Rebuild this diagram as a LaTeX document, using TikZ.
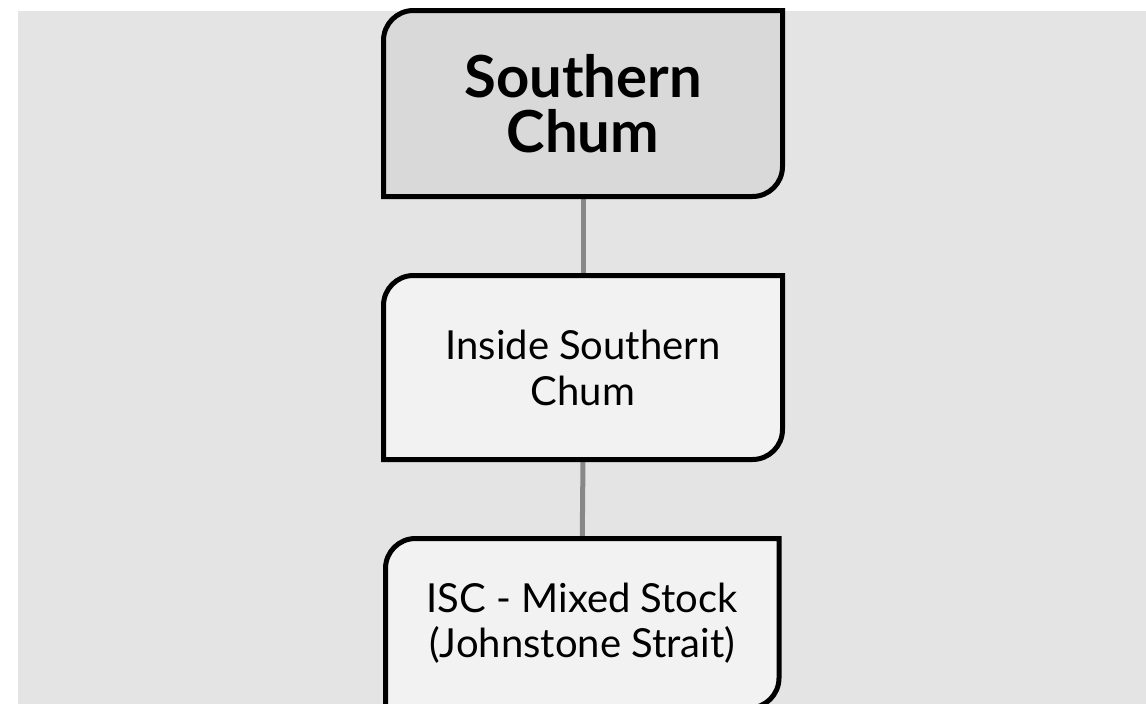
\documentclass[tikz,border=0pt]{standalone}
\usepackage{fontspec}
\setmainfont{Lato}
\usetikzlibrary{backgrounds}
\definecolor{bgcol}{HTML}{E4E4E4}
\definecolor{topfill}{HTML}{D9D9D9}
\definecolor{leaffill}{HTML}{F2F2F2}
\definecolor{linkcol}{HTML}{888888}
\tikzset{
  boxline/.style={line width=5pt, draw=black, line join=miter},
  boxnode/.style={inner sep=0pt, outer sep=0pt, align=center, text=black},
  link/.style={line width=5pt, draw=linkcol}
}
\begin{document}
\begin{tikzpicture}[x=1pt, y=-1pt]
\useasboundingbox (0,0) rectangle (1146,704);
\node[boxnode, minimum width=399pt, minimum height=186pt, font=\bfseries\fontsize{58}{55}\selectfont] (top) at (583,103.5) {Southern\\Chum};
\node[boxnode, minimum width=399pt, minimum height=184pt, font=\fontsize{40}{46}\selectfont] (mid) at (583,367.5) {Inside Southern\\Chum};
\node[boxnode, minimum width=393.5pt, minimum height=169.5pt, font=\fontsize{40}{45}\selectfont] (bot) at (582.25,623.25) {ISC - Mixed Stock\\(Johnstone Strait)};
\begin{pgfonlayer}{background}
\fill[white] (0,0) rectangle (1146,704);
\fill[bgcol] (18,11) rectangle (1146,704);
\begin{scope}
\clip (0,0) rectangle (1146,704);
\draw[link] (top.south) -- (mid.north);
\draw[link] (mid.south) -- (bot.north);
\foreach \n/\f in {top/topfill, mid/leaffill, bot/leaffill} {
  \filldraw[boxline, fill=\f] (\n.south west) -- ([yshift=-30pt]\n.north west)
    arc[start angle=180, end angle=90, radius=30pt] -- (\n.north east)
    -- ([yshift=30pt]\n.south east)
    arc[start angle=0, end angle=-90, radius=30pt] -- cycle;
}
\end{scope}
\end{pgfonlayer}
\end{tikzpicture}
\end{document}
